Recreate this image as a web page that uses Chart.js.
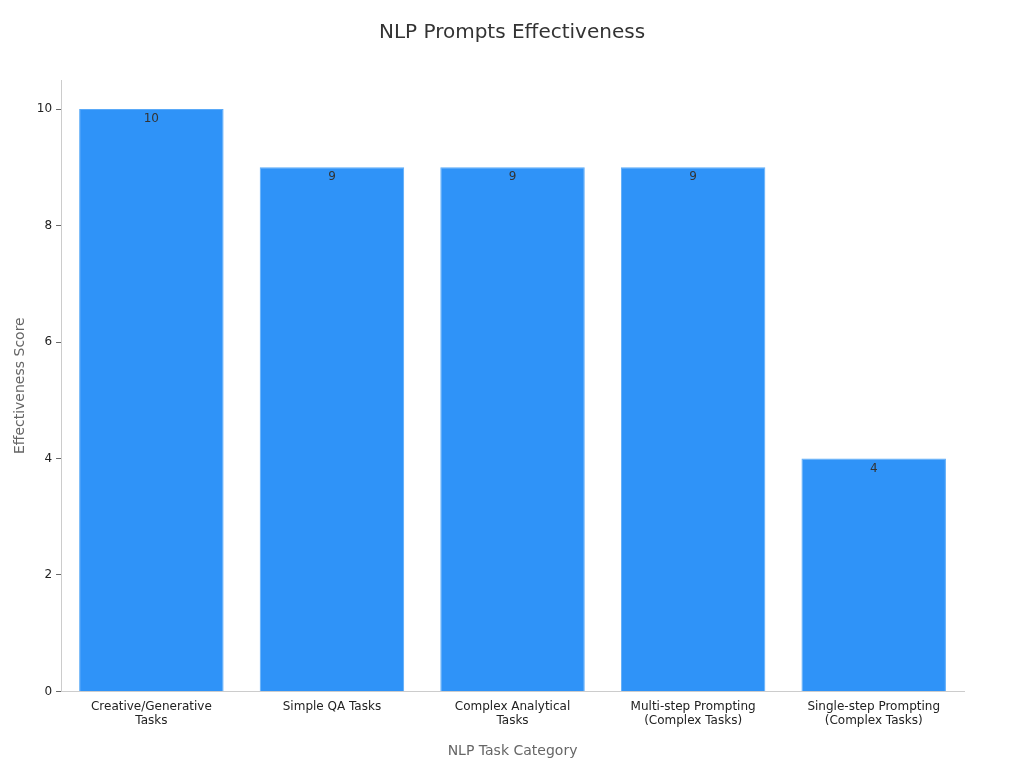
<!DOCTYPE html>
<html>
<head>
<meta charset="utf-8">
<script src="https://cdn.jsdelivr.net/npm/chart.js@4"></script>
<style>
  html, body { margin: 0; padding: 0; background: #fff; }
  #wrap { width: 1024px; height: 768px; }
</style>
</head>
<body>
<div id="wrap"><canvas id="c" width="1024" height="768"></canvas></div>
<script>
const categories = [
  ['Creative/Generative', 'Tasks'],
  'Simple QA Tasks',
  ['Complex Analytical', 'Tasks'],
  ['Multi-step Prompting', '(Complex Tasks)'],
  ['Single-step Prompting', '(Complex Tasks)']
];
const scores = [10, 9, 9, 9, 4];
const yTicks = [0, 2, 4, 6, 8, 10];
const chartTitle = 'NLP Prompts Effectiveness';

Chart.defaults.font.family = 'DejaVu Sans, sans-serif';

// value labels just under the top of each bar, title centred on the page
const extras = {
  id: 'extras',
  afterDatasetsDraw(chart) {
    const ctx = chart.ctx;
    ctx.save();
    ctx.font = '12px DejaVu Sans, sans-serif';
    ctx.fillStyle = '#333';
    ctx.textAlign = 'center';
    ctx.textBaseline = 'top';
    chart.getDatasetMeta(0).data.forEach((bar, i) => {
      ctx.fillText(String(scores[i]), bar.x, bar.y + 4);
    });
    ctx.font = '20px DejaVu Sans, sans-serif';
    ctx.textBaseline = 'middle';
    ctx.fillText(chartTitle, chart.width / 2, 33);
    ctx.restore();
  }
};

new Chart(document.getElementById('c'), {
  type: 'bar',
  data: {
    labels: categories,
    datasets: [{
      data: scores,
      backgroundColor: '#2F93F8',
      borderColor: '#5AAAF8',
      borderWidth: 1,
      barPercentage: 0.8,
      categoryPercentage: 1
    }]
  },
  options: {
    responsive: false,
    animation: false,
    layout: { padding: { left: 8, right: 60, top: 80, bottom: 4 } },
    plugins: {
      legend: { display: false },
      tooltip: { enabled: false },
      title: { display: false }
    },
    scales: {
      x: {
        grid: { display: false, drawTicks: false },
        border: { color: '#ccc' },
        ticks: { color: '#222', font: { size: 12 }, padding: 8, maxRotation: 0 },
        title: { display: true, text: 'NLP Task Category', color: '#666', font: { size: 14 }, padding: { top: 7 } }
      },
      y: {
        min: 0,
        max: 10.5,
        afterBuildTicks(axis) { axis.ticks = yTicks.map(v => ({ value: v })); },
        grid: { display: true, drawOnChartArea: false, drawTicks: true, tickLength: 5, tickColor: '#666' },
        border: { color: '#ccc' },
        ticks: { color: '#222', font: { size: 12 }, padding: 4 },
        title: { display: true, text: 'Effectiveness Score', color: '#666', font: { size: 14 } }
      }
    }
  },
  plugins: [extras]
});
</script>
</body>
</html>
